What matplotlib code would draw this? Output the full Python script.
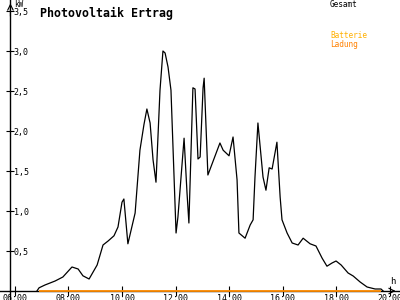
import matplotlib
matplotlib.use('Agg')
import matplotlib.pyplot as plt

# Tageskurve Photovoltaik (Stunde, kW)
stunden = [6.82, 6.90, 7.12, 7.50, 7.79, 8.13, 8.36, 8.54, 8.77, 9.07, 9.29, 9.48,
           9.70, 9.85, 10.00, 10.07, 10.22, 10.49, 10.67, 10.82, 10.93, 11.05, 11.16,
           11.27, 11.42, 11.53, 11.61, 11.72, 11.83, 11.94, 12.02, 12.09, 12.32, 12.43,
           12.50, 12.65, 12.73, 12.84, 12.92, 13.03, 13.07, 13.21, 13.66, 13.78, 14.00,
           14.15, 14.30, 14.37, 14.60, 14.79, 14.90, 14.97, 15.08, 15.27, 15.38, 15.50,
           15.61, 15.79, 15.91, 15.98, 16.17, 16.36, 16.58, 16.77, 17.03, 17.25, 17.48,
           17.66, 17.85, 18.00, 18.19, 18.45, 18.64, 18.90, 19.16, 19.46, 19.68, 19.76]
gesamt = [0.0, 0.04, 0.075, 0.125, 0.175, 0.30, 0.275, 0.19, 0.15, 0.325, 0.575, 0.625,
          0.69, 0.80, 1.11, 1.15, 0.59, 0.975, 1.76, 2.08, 2.275, 2.10, 1.64,
          1.36, 2.51, 3.00, 2.975, 2.80, 2.51, 1.475, 0.725, 0.925, 1.91, 1.225,
          0.85, 2.54, 2.525, 1.65, 1.675, 2.54, 2.66, 1.45, 1.85, 1.76, 1.69,
          1.925, 1.39, 0.725, 0.66, 0.825, 0.89, 1.425, 2.10, 1.425, 1.26, 1.54,
          1.525, 1.86, 1.175, 0.89, 0.725, 0.60, 0.575, 0.66, 0.59, 0.5625, 0.41,
          0.31, 0.35, 0.375, 0.325, 0.225, 0.1875, 0.1125, 0.05, 0.025, 0.025, 0.0]

# Batterieladung (ganzer Tag 0)
ladung_stunden = [6.90, 19.67]
ladung = [0.0, 0.0]

y_ticks = [0.5, 1.0, 1.5, 2.0, 2.5, 3.0, 3.5]
y_labels = ['0,5', '1,0', '1,5', '2,0', '2,5', '3,0', '3,5']
x_ticks = [6, 8, 10, 12, 14, 16, 18, 20]
x_labels = ['06:00', '08:00', '10:00', '12:00', '14:00', '16:00', '18:00', '20:00']

mono = 'DejaVu Sans Mono'

fig = plt.figure(figsize=(4, 3), dpi=100)
ax = fig.add_axes([0, 0, 1, 1])
ax.set_xlim(5.44, 20.39)
ax.set_ylim(-0.1125, 3.6375)

ax.plot(stunden, gesamt, color='black', lw=0.9, zorder=3)
ax.plot(ladung_stunden, ladung, color='#ff8c00', lw=1.3, zorder=4, solid_capstyle='butt')

# Achsen
for s in ['top', 'right']:
    ax.spines[s].set_visible(False)
ax.spines['left'].set_position(('data', 5.83))
ax.spines['bottom'].set_position(('data', 0))
ax.spines['left'].set_linewidth(1)
ax.spines['bottom'].set_linewidth(1)
ax.annotate('', xy=(5.83, 3.63), xytext=(5.83, 3.4),
            arrowprops=dict(arrowstyle='->', lw=0.8, color='black'))
ax.annotate('', xy=(20.33, 0), xytext=(20.0, 0),
            arrowprops=dict(arrowstyle='->', lw=0.8, color='black'))

ax.set_yticks(y_ticks)
ax.set_yticklabels(y_labels, fontfamily=mono, fontsize=6)
ax.set_xticks(x_ticks)
ax.set_xticklabels(x_labels, fontfamily=mono, fontsize=6)
ax.tick_params(axis='y', direction='inout', length=6, width=0.8, pad=-5.4)
ax.tick_params(axis='x', direction='inout', length=7, width=0.8, pad=-1)
for lab in ax.get_yticklabels():
    lab.set_horizontalalignment('left')

ax.text(5.95, 3.64, 'kW', fontfamily=mono, fontsize=5.5, va='top', ha='left')
ax.text(20.12, 0.06, 'h', fontfamily=mono, fontsize=6.5, va='bottom', ha='center')

fig.text(0.10, 0.955, 'Photovoltaik Ertrag', fontfamily=mono, fontweight='bold',
         fontsize=8.4, va='center', ha='left')
fig.text(0.825, 0.985, 'Gesamt', fontfamily=mono, fontsize=5.6, va='center', ha='left')
fig.text(0.825, 0.88, 'Batterie', fontfamily=mono, fontsize=5.6, va='center', ha='left',
         color='#ffb000')
fig.text(0.825, 0.853, 'Ladung', fontfamily=mono, fontsize=5.6, va='center', ha='left',
         color='#ff8000')

fig.savefig('out.png', dpi=100, facecolor='white')
